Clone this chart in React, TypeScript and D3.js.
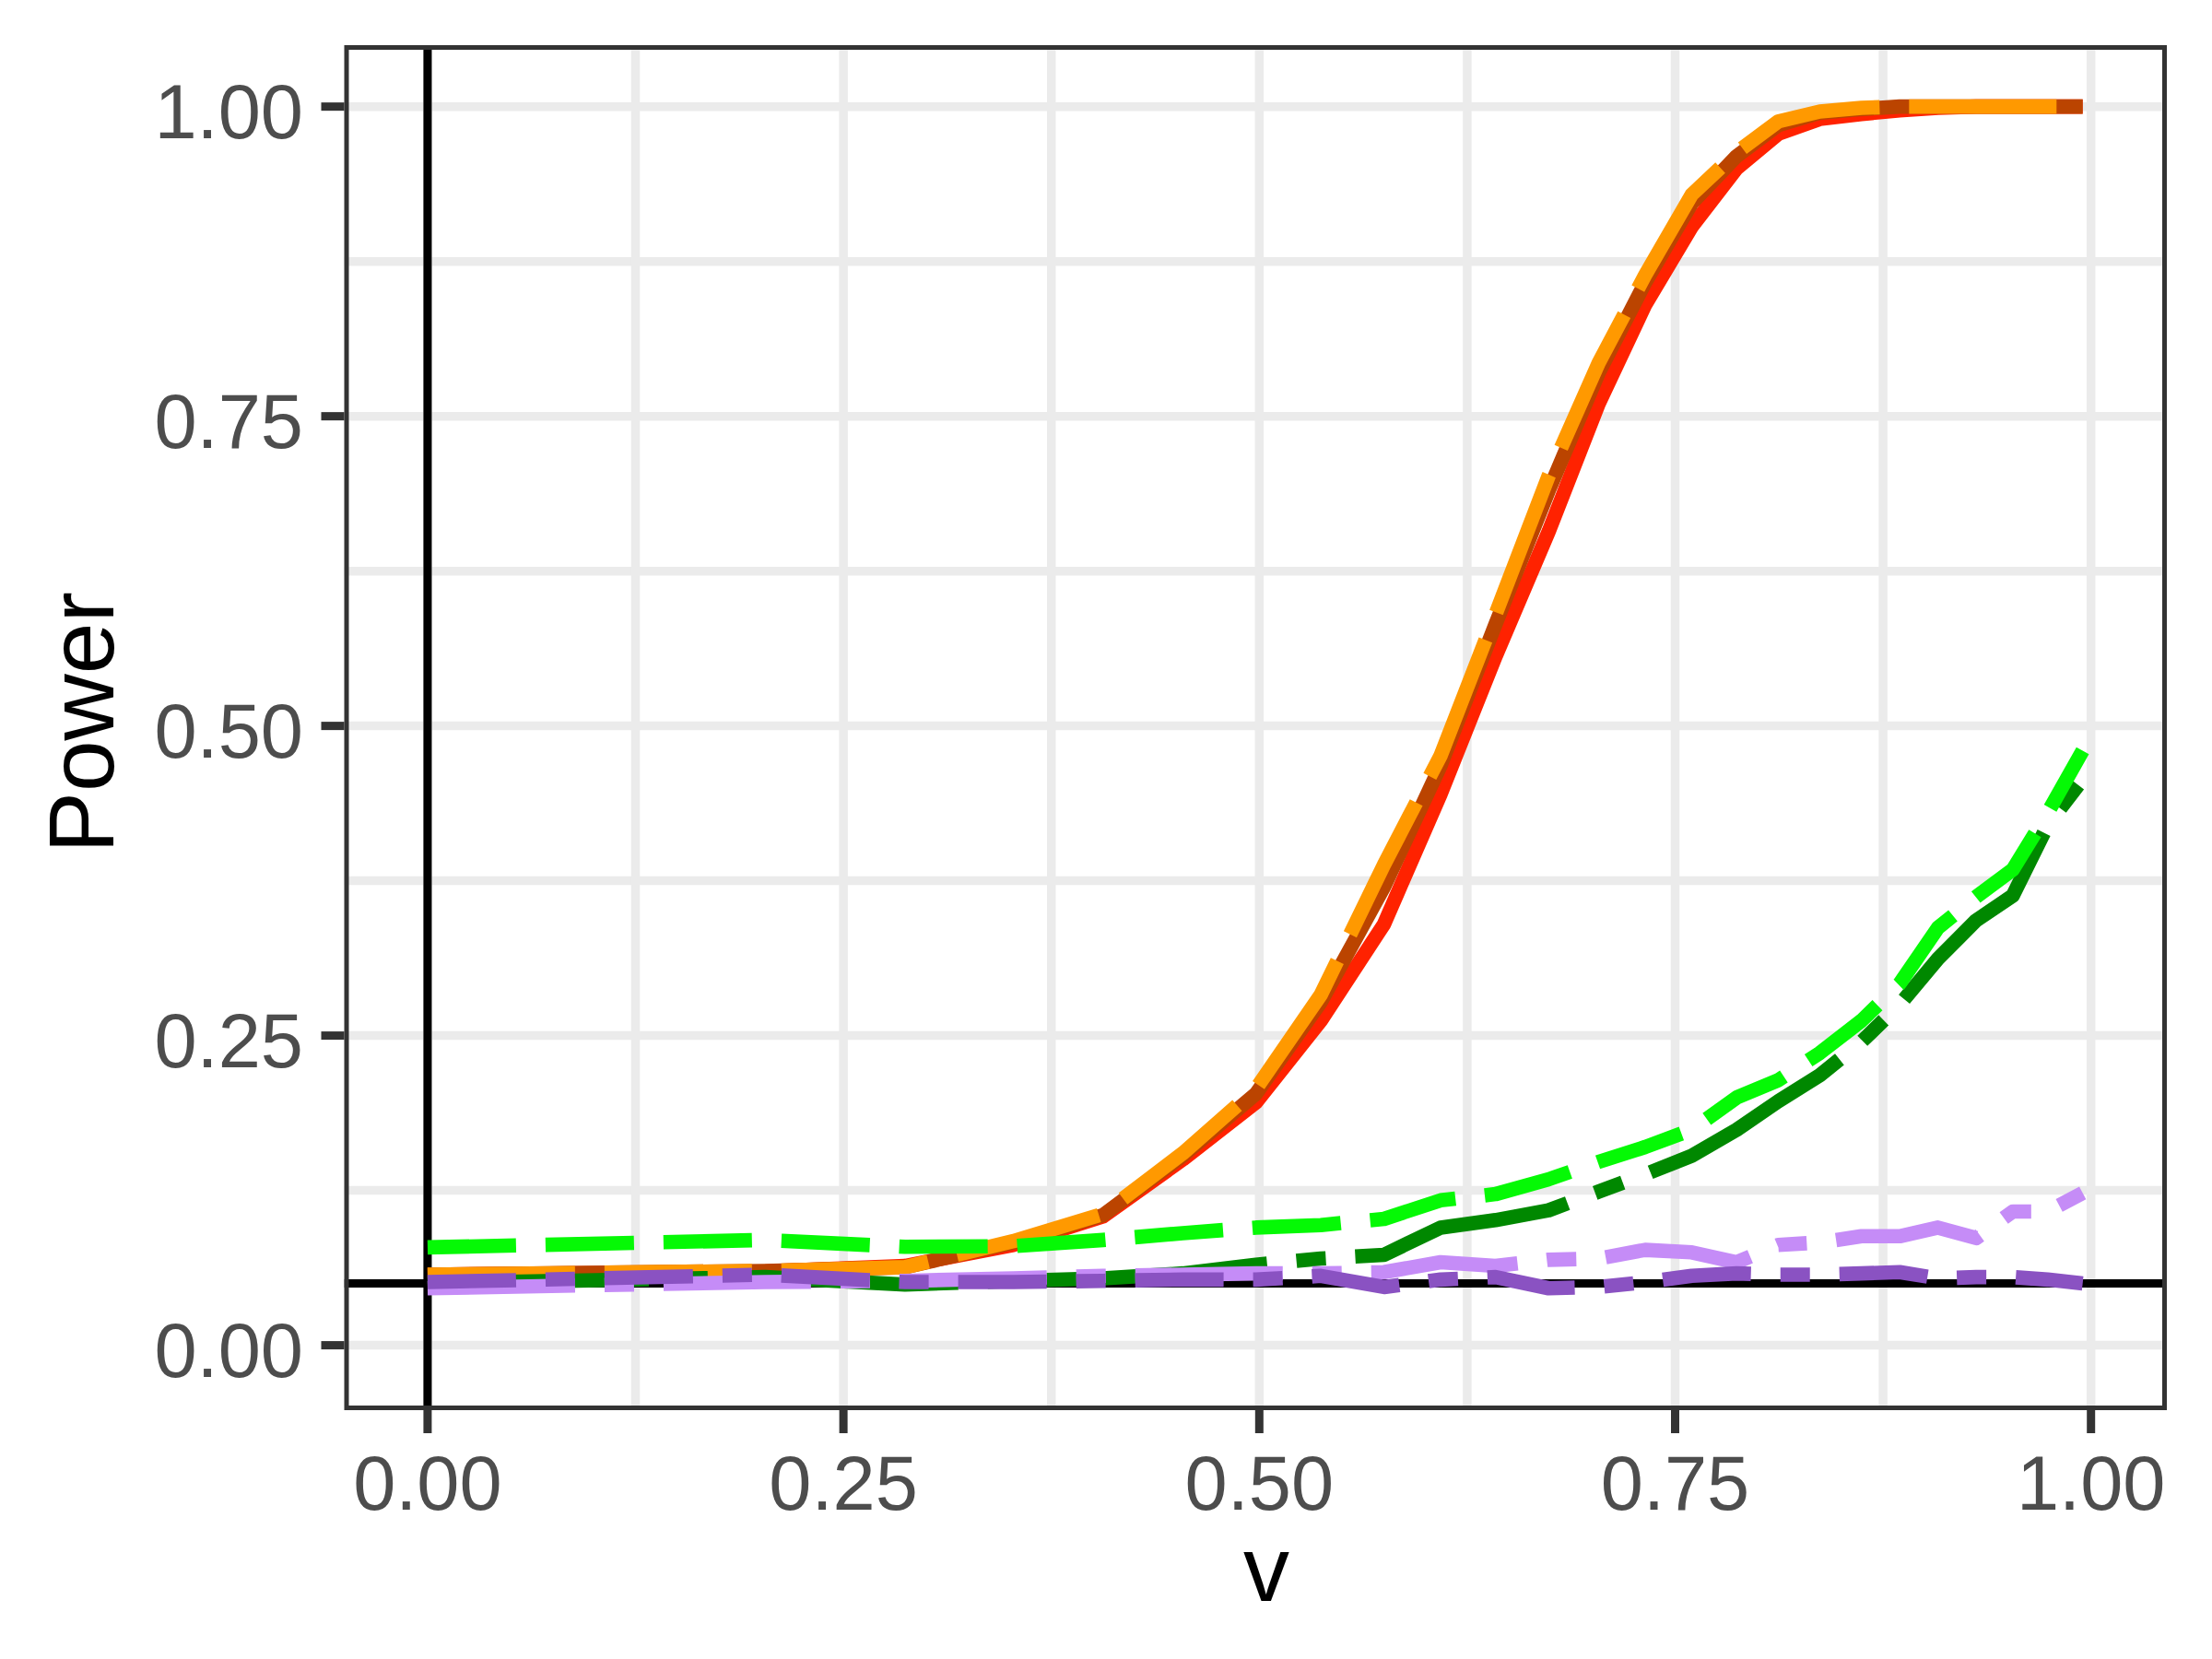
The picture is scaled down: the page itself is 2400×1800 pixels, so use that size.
import React from "react";
import * as d3 from "d3";

// x values (v) at which every series is sampled
const vValues = [0, 0.203, 0.287, 0.352, 0.406, 0.454, 0.498, 0.537, 0.575, 0.609, 0.642, 0.674, 0.704, 0.732, 0.760, 0.787, 0.812, 0.837, 0.862, 0.885, 0.908, 0.931, 0.953, 0.974, 0.995];

const powerRed = [0.057, 0.0595, 0.064, 0.081, 0.104, 0.150, 0.196, 0.262, 0.340, 0.445, 0.556, 0.657, 0.760, 0.840, 0.903, 0.950, 0.978, 0.990, 0.994, 0.997, 0.999, 1.0, 1.0, 1.0, 1.0];
const powerBrown = [0.057, 0.060, 0.063, 0.083, 0.105, 0.153, 0.203, 0.277, 0.370, 0.468, 0.582, 0.690, 0.785, 0.858, 0.922, 0.960, 0.985, 0.995, 0.998, 1.0, 1.0, 1.0, 1.0, 1.0, 1.0];
const powerOrange = [0.057, 0.060, 0.063, 0.084, 0.106, 0.155, 0.207, 0.283, 0.388, 0.476, 0.590, 0.702, 0.793, 0.864, 0.929, 0.963, 0.988, 0.996, 0.999, 1.0, 1.0, 1.0, 1.0, 1.0, 1.0];
const powerDarkGreen = [0.050, 0.055, 0.049, 0.052, 0.054, 0.058, 0.065, 0.070, 0.073, 0.095, 0.101, 0.109, 0.124, 0.138, 0.153, 0.174, 0.197, 0.218, 0.245, 0.275, 0.312, 0.343, 0.363, 0.420, 0.457];
const powerLightGreen = [0.079, 0.085, 0.0795, 0.080, 0.085, 0.0905, 0.095, 0.097, 0.102, 0.117, 0.122, 0.134, 0.148, 0.160, 0.174, 0.200, 0.214, 0.236, 0.262, 0.292, 0.337, 0.362, 0.384, 0.430, 0.480];
const powerLightPurple = [0.046, 0.051, 0.052, 0.054, 0.056, 0.057, 0.058, 0.058, 0.059, 0.067, 0.064, 0.069, 0.070, 0.077, 0.075, 0.067, 0.081, 0.083, 0.088, 0.088, 0.095, 0.0865, 0.108, 0.108, 0.123];
const powerDarkPurple = [0.051, 0.057, 0.051, 0.051, 0.052, 0.053, 0.053, 0.056, 0.047, 0.053, 0.055, 0.046, 0.047, 0.051, 0.056, 0.058, 0.057, 0.057, 0.058, 0.059, 0.054, 0.055, 0.055, 0.053, 0.050];

const xTicks = [0, 0.25, 0.5, 0.75, 1];
const xTickLabels = ["0.00", "0.25", "0.50", "0.75", "1.00"];
const yTicks = [0, 0.25, 0.5, 0.75, 1];
const yTickLabels = ["0.00", "0.25", "0.50", "0.75", "1.00"];
const xMinorGrid = [0.125, 0.375, 0.625, 0.875];
const yMinorGrid = [0.125, 0.375, 0.625, 0.875];
const refV = 0;
const refPower = 0.05;
const xTitle = "v";
const yTitle = "Power";

const U = 16; // dash unit
const series = [
  { values: powerRed, color: "#FF2200", dash: null },
  { values: powerBrown, color: "#BB4400", dash: null },
  { values: powerOrange, color: "#FF9900", dash: [10 * U, 2 * U] },
  { values: powerDarkGreen, color: "#008800", dash: [15 * U, 2 * U, 2 * U, 2 * U] },
  { values: powerLightGreen, color: "#05F905", dash: [6 * U, 2 * U] },
  { values: powerLightPurple, color: "#C58CF7", dash: [10 * U, 2 * U, 2 * U, 2 * U] },
  { values: powerDarkPurple, color: "#8A52C2", dash: [6 * U, 2 * U, 2 * U, 2 * U] },
];

export default function App() {
  const left = 373.5, right = 2351, top = 49, bottom = 1530;
  const x = d3.scaleLinear().domain([-0.0501, 1.0456]).range([left, right]);
  const y = d3.scaleLinear().domain([-0.0524, 1.0496]).range([bottom, top]);
  const line = d3
    .line<number>()
    .x((_, i) => x(vValues[i]))
    .y((d) => y(d))
    .curve(d3.curveLinear);

  const gridColor = "#EBEBEB";
  const gridW = 9.5;
  const font = "'Liberation Sans', Arial, Helvetica, sans-serif";

  return (
    <svg
      width={2400}
      height={1800}
      viewBox="0 0 2400 1800"
      style={{ position: "absolute", left: 0, top: 0, background: "#fff" }}
    >
      <rect x={0} y={0} width={2400} height={1800} fill="#fff" />
      <defs>
        <clipPath id="panel">
          <rect x={left} y={top} width={right - left} height={bottom - top} />
        </clipPath>
      </defs>
      <g clipPath="url(#panel)">
        {/* grid */}
        {yMinorGrid.map((t) => (
          <line key={"ym" + t} x1={left} x2={right} y1={y(t)} y2={y(t)} stroke={gridColor} strokeWidth={gridW} />
        ))}
        {xMinorGrid.map((t) => (
          <line key={"xm" + t} y1={top} y2={bottom} x1={x(t)} x2={x(t)} stroke={gridColor} strokeWidth={gridW} />
        ))}
        {yTicks.map((t) => (
          <line key={"yg" + t} x1={left} x2={right} y1={y(t)} y2={y(t)} stroke={gridColor} strokeWidth={gridW} />
        ))}
        {xTicks.map((t) => (
          <line key={"xg" + t} y1={top} y2={bottom} x1={x(t)} x2={x(t)} stroke={gridColor} strokeWidth={gridW} />
        ))}
        {/* reference lines */}
        <line x1={x(refV)} x2={x(refV)} y1={top} y2={bottom} stroke="#000" strokeWidth={9} />
        <line x1={left} x2={right} y1={y(refPower)} y2={y(refPower)} stroke="#000" strokeWidth={9} />
        {/* series */}
        {series.map((s, i) => (
          <path
            key={i}
            d={line(s.values) || ""}
            fill="none"
            stroke={s.color}
            strokeWidth={15.6}
            strokeLinecap="butt"
            strokeLinejoin="round"
            strokeDasharray={s.dash ? s.dash.join(" ") : undefined}
          />
        ))}
      </g>
      {/* panel border */}
      <rect
        x={left + 2.5}
        y={top + 2.5}
        width={right - left - 5}
        height={bottom - top - 5}
        fill="none"
        stroke="#333333"
        strokeWidth={5}
      />
      {/* x axis ticks and labels */}
      {xTicks.map((t, i) => (
        <g key={"xt" + t}>
          <line x1={x(t)} x2={x(t)} y1={bottom} y2={bottom + 25} stroke="#333333" strokeWidth={9} />
          <text
            x={x(t)}
            y={1638}
            textAnchor="middle"
            fontFamily={font}
            fontSize={83}
            fill="#4D4D4D"
          >
            {xTickLabels[i]}
          </text>
        </g>
      ))}
      {/* y axis ticks and labels */}
      {yTicks.map((t, i) => (
        <g key={"yt" + t}>
          <line x1={left - 25} x2={left} y1={y(t)} y2={y(t)} stroke="#333333" strokeWidth={9} />
          <text
            x={329}
            y={y(t) + 34}
            textAnchor="end"
            fontFamily={font}
            fontSize={83}
            fill="#4D4D4D"
          >
            {yTickLabels[i]}
          </text>
        </g>
      ))}
      <text x={1374} y={1737} textAnchor="middle" fontFamily={font} fontSize={100} fill="#000">
        {xTitle}
      </text>
      <text
        transform="translate(123,784) rotate(-90)"
        textAnchor="middle"
        fontFamily={font}
        fontSize={100}
        fill="#000"
      >
        {yTitle}
      </text>
    </svg>
  );
}
